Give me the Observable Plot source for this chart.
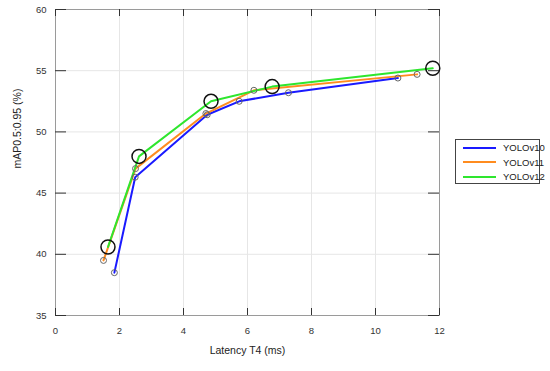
<!DOCTYPE html>
<html>
<head>
<meta charset="utf-8">
<script src="https://cdn.jsdelivr.net/npm/d3@7"></script>
<script src="https://cdn.jsdelivr.net/npm/@observablehq/plot@0.6"></script>
<style>
  html, body { margin: 0; padding: 0; background: #fff; }
  #wrap { position: relative; width: 550px; height: 371px; font-family: "Liberation Sans", Arial, sans-serif; }
  #legend { position: absolute; left: 455px; top: 139px; width: 85px; height: 45px; border: 1px solid #444; background: #fff; box-sizing: border-box; }
  .row { position: absolute; left: 0; height: 14px; display: flex; align-items: center; }
  .sw { width: 33px; height: 2px; margin-left: 7px; margin-right: 7px; }
  .lab { font-size: 9.5px; color: #222; }
</style>
</head>
<body>
<div id="wrap"></div>
<script>
const seriesNames = ["YOLOv10", "YOLOv11", "YOLOv12"];
const colors = ["#1a1aff", "#ff8c1f", "#2ee62e"];

const v10Latency = [1.84, 2.49, 4.74, 5.74, 7.28, 10.70];
const v10Map     = [38.5, 46.3, 51.4, 52.5, 53.2, 54.4];
const v11Latency = [1.5, 2.5, 4.7, 6.2, 11.3];
const v11Map     = [39.5, 47.0, 51.5, 53.4, 54.7];
const v12Latency = [1.64, 2.61, 4.86, 6.77, 11.79];
const v12Map     = [40.6, 48.0, 52.5, 53.7, 55.2];

const xTicks = [0, 2, 4, 6, 8, 10, 12];
const yTicks = [35, 40, 45, 50, 55, 60];
const xLabel = "Latency T4 (ms)";
const yLabel = "mAP0.5:0.95 (%)";

const toRows = (name, xs, ys) => xs.map((x, i) => ({series: name, x, y: ys[i]}));
const v10 = toRows("YOLOv10", v10Latency, v10Map);
const v11 = toRows("YOLOv11", v11Latency, v11Map);
const v12 = toRows("YOLOv12", v12Latency, v12Map);

const xTickLen = 7;
const yTickLen = 11;
const frameW = 550 - 55 - 111;
const frameH = 371 - 9 - 56;

const chart = Plot.plot({
  width: 550,
  height: 371,
  marginLeft: 55,
  marginRight: 111,
  marginTop: 9,
  marginBottom: 56,
  style: {fontFamily: "Liberation Sans, Arial, sans-serif", background: "white"},
  x: {domain: [0, 12]},
  y: {domain: [35, 60]},
  marks: [
    Plot.gridX(xTicks, {stroke: "#e6e6e6", strokeOpacity: 1}),
    Plot.gridY(yTicks, {stroke: "#e6e6e6", strokeOpacity: 1}),
    Plot.frame({stroke: "#9a9a9a"}),
    Plot.tickX(xTicks, {x: d => d, insetTop: frameH - xTickLen, stroke: "#333"}),
    Plot.tickX(xTicks, {x: d => d, insetBottom: frameH - xTickLen, stroke: "#333"}),
    Plot.tickY(yTicks, {y: d => d, insetRight: frameW - yTickLen, stroke: "#333"}),
    Plot.tickY(yTicks, {y: d => d, insetLeft: frameW - yTickLen, stroke: "#333"}),
    Plot.axisX(xTicks, {tickSize: 0, tickPadding: 12, label: null, fontSize: 9.5, fill: "#333"}),
    Plot.axisY(yTicks, {tickSize: 0, tickPadding: 9, label: null, fontSize: 9.5, fill: "#333"}),
    Plot.text([xLabel], {frameAnchor: "bottom", dy: 38, fontSize: 10.5, fill: "#222"}),
    Plot.text([yLabel], {frameAnchor: "left", dx: -38, dy: 6, rotate: -90, fontSize: 10.5, fill: "#222"}),
    Plot.line(v10, {x: "x", y: "y", stroke: colors[0], strokeWidth: 2}),
    Plot.line(v11, {x: "x", y: "y", stroke: colors[1], strokeWidth: 2}),
    Plot.line(v12, {x: "x", y: "y", stroke: colors[2], strokeWidth: 2}),
    Plot.dot(v10, {x: "x", y: "y", r: 3, stroke: "#666", strokeWidth: 1, fill: "none"}),
    Plot.dot(v11, {x: "x", y: "y", r: 3, stroke: "#666", strokeWidth: 1, fill: "none"}),
    Plot.dot(v12, {x: "x", y: "y", r: 7, stroke: "#111", strokeWidth: 1.5, fill: "none"})
  ]
});

const wrap = document.getElementById("wrap");
wrap.appendChild(chart);

const legend = document.createElement("div");
legend.id = "legend";
seriesNames.forEach((name, i) => {
  const row = document.createElement("div");
  row.className = "row";
  row.style.top = (0.5 + i * 14.5) + "px";
  const sw = document.createElement("div");
  sw.className = "sw";
  sw.style.background = colors[i];
  const lab = document.createElement("span");
  lab.className = "lab";
  lab.textContent = name;
  row.appendChild(sw);
  row.appendChild(lab);
  legend.appendChild(row);
});
wrap.appendChild(legend);
</script>
</body>
</html>
